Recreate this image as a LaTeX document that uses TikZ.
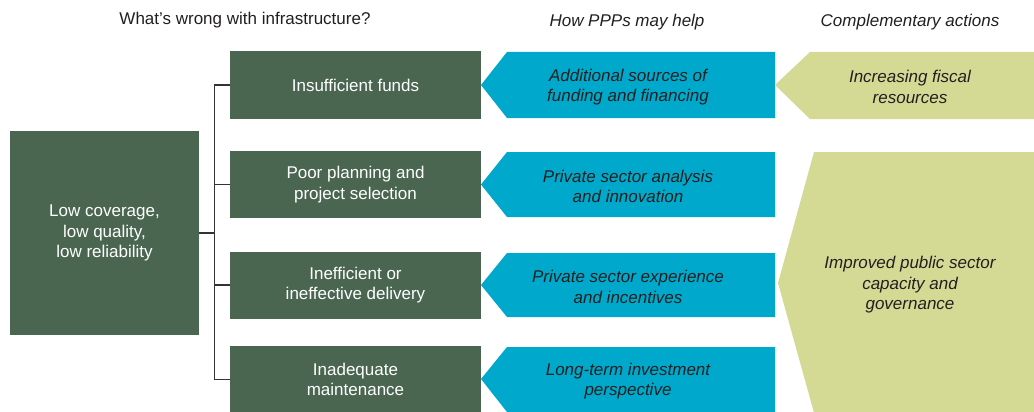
\documentclass[tikz,border=0pt]{standalone}
\usepackage{fontspec}
\setmainfont{Liberation Sans}
\definecolor{infragreen}{HTML}{4A6650}
\definecolor{pppblue}{HTML}{00A9CB}
\definecolor{actiongreen}{HTML}{D4DA94}
\definecolor{darktext}{HTML}{231F20}

\begin{document}
\begin{tikzpicture}[x=1pt, y=-1pt,
    every node/.style={align=center, text=darktext, font=\fontsize{17}{20.5}\selectfont},
    problem/.style={fill=infragreen, text=white, minimum width=251pt, minimum height=67pt, inner sep=0pt},
    helptext/.style={yshift=-2pt, font=\itshape\fontsize{17}{20.5}\selectfont},
    bracket/.style={draw=black!80, line width=1.1pt}]

    \useasboundingbox (0,0) rectangle (1034,412);

    % Headings
    \node (whatswrong) at (245,20) {What's wrong with infrastructure?};
    \node[helptext] (howhelp) at (627,20) {How PPPs may help};
    \node[helptext] (compl) at (910,20) {Complementary actions};

    % Root box
    \node[problem, minimum width=189pt, minimum height=204pt] (root) at (104.5,233) {Low coverage,\\low quality,\\low reliability};

    % Problem column
    \node[problem] (funds) at (355.5,85) {Insufficient funds};
    \node[problem] (planning) at (355.5,184.5) {Poor planning and\\project selection};
    \node[problem] (delivery) at (355.5,285) {Inefficient or\\ineffective delivery};
    \node[problem] (upkeep) at (355.5,379.5) {Inadequate\\maintenance};

    % Bracket
    \draw[bracket] (root.east) -- ++(16,0);
    \draw[bracket] (funds.west) -- ++(-15,0) |- (upkeep.west);
    \draw[bracket] (planning.west) -- ++(-15,0);
    \draw[bracket] (delivery.west) -- ++(-15,0);

    % PPP arrows
    \fill[pppblue] (481,85) -- (507,52) -- (775,52) -- (775,118) -- (507,118) -- cycle;
    \fill[pppblue] (481,184.5) -- (507,152) -- (775,152) -- (775,217) -- (507,217) -- cycle;
    \fill[pppblue] (481,285) -- (507,253) -- (775,253) -- (775,317) -- (507,317) -- cycle;
    \fill[pppblue] (481,379) -- (507,347) -- (775,347) -- (775,412) -- (507,412) -- cycle;
    \node[helptext] (sources) at (628,85) {Additional sources of\\funding and financing};
    \node[helptext] (analysis) at (628,184.5) {Private sector analysis\\and innovation};
    \node[helptext] (experience) at (628,285) {Private sector experience\\and incentives};
    \node[helptext] (longterm) at (628,379) {Long-term investment\\perspective};

    % Complementary actions
    \fill[actiongreen] (775,85) -- (810,52) -- (1040,52) -- (1040,119) -- (810,119) -- cycle;
    \fill[actiongreen] (778,283) -- (814,152) -- (1040,152) -- (1040,420) -- (816,420) -- cycle;
    \node[helptext] (fiscal) at (910,85) {Increasing fiscal\\resources};
    \node[helptext] (capacity) at (910,283) {Improved public sector\\capacity and\\governance};

\end{tikzpicture}
\end{document}
